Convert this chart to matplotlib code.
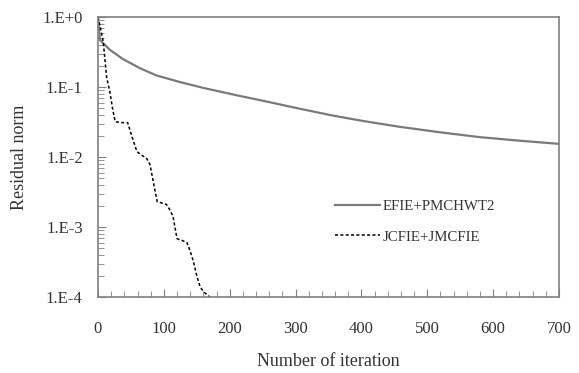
import matplotlib
matplotlib.use("Agg")
import matplotlib.pyplot as plt
from matplotlib.ticker import FixedLocator, LogLocator, NullFormatter, MultipleLocator

plt.rcParams['font.family'] = ['Liberation Serif', 'DejaVu Serif']

efie_x = [0, 1, 2, 3, 8, 18, 38, 64, 89, 124, 160, 211, 256, 306, 357, 400, 458, 520, 580, 640, 700]
efie_y = [1.0, 0.75, 0.58, 0.47, 0.42, 0.34, 0.25, 0.185, 0.146, 0.118, 0.097, 0.076, 0.062, 0.049, 0.039, 0.033, 0.027, 0.0225, 0.0192, 0.0171, 0.0154]

jc_x = [0, 3, 8, 13, 18, 22, 26, 35, 45, 52, 59, 64, 74, 79, 86, 90, 97, 104, 110, 114, 120, 128, 135, 140, 145, 150, 155, 160, 167, 170]
jc_y = [1.0, 0.75, 0.44, 0.14, 0.085, 0.05, 0.032, 0.031, 0.031, 0.019, 0.012, 0.011, 0.0095, 0.0078, 0.0035, 0.0023, 0.0022, 0.0021, 0.0017, 0.0014, 0.00068, 0.00064, 0.0006, 0.00045, 0.00032, 0.0002, 0.00014, 0.00012, 0.000105, 0.0001]

x_ticks = [0, 100, 200, 300, 400, 500, 600, 700]
y_ticks = [1e-4, 1e-3, 1e-2, 1e-1, 1e0]
y_labels = ['1.E-4', '1.E-3', '1.E-2', '1.E-1', '1.E+0']

fig = plt.figure(figsize=(5.79, 3.73), dpi=100)
ax = fig.add_axes([98/579, 1-297/373, (559-98)/579, (297-17)/373])

ax.plot(efie_x, efie_y, color='#7a7a7a', lw=1.6, label='EFIE+PMCHWT2')
ax.plot(jc_x, jc_y, color='black', lw=1.1, ls=(0, (2, 1.5)), label='JCFIE+JMCFIE')

ax.set_yscale('log')
ax.set_xlim(0, 700)
ax.set_ylim(1e-4, 1)
ax.set_xticks(x_ticks)
ax.set_xticklabels([str(v) for v in x_ticks])
ax.xaxis.set_minor_locator(MultipleLocator(20))
ax.yaxis.set_major_locator(FixedLocator(y_ticks))
ax.set_yticklabels(y_labels)
ax.yaxis.set_minor_locator(LogLocator(base=10, subs=range(2, 10)))
ax.yaxis.set_minor_formatter(NullFormatter())

for s in ax.spines.values():
    s.set_color('#808080')
    s.set_linewidth(1.2)

ax.tick_params(axis='both', which='both', direction='in', colors='#808080', labelcolor='#333333', labelsize=12)
ax.tick_params(axis='x', which='major', length=6, pad=17)
ax.tick_params(axis='x', which='minor', length=4)
ax.tick_params(axis='y', which='major', length=6, pad=11)
ax.tick_params(axis='y', which='minor', length=4)

ax.set_xlabel('Number of iteration', fontsize=13, color='#333333', labelpad=12)
ax.set_ylabel('Residual norm', fontsize=13, color='#333333', labelpad=10)

leg = ax.legend(loc='upper left', bbox_to_anchor=(0.485, 0.395), frameon=False, fontsize=10.7,
                handlelength=3.0, handletextpad=0.2, labelspacing=1.15)
for t in leg.get_texts():
    t.set_color('#333333')

fig.savefig('out.png', dpi=100)
